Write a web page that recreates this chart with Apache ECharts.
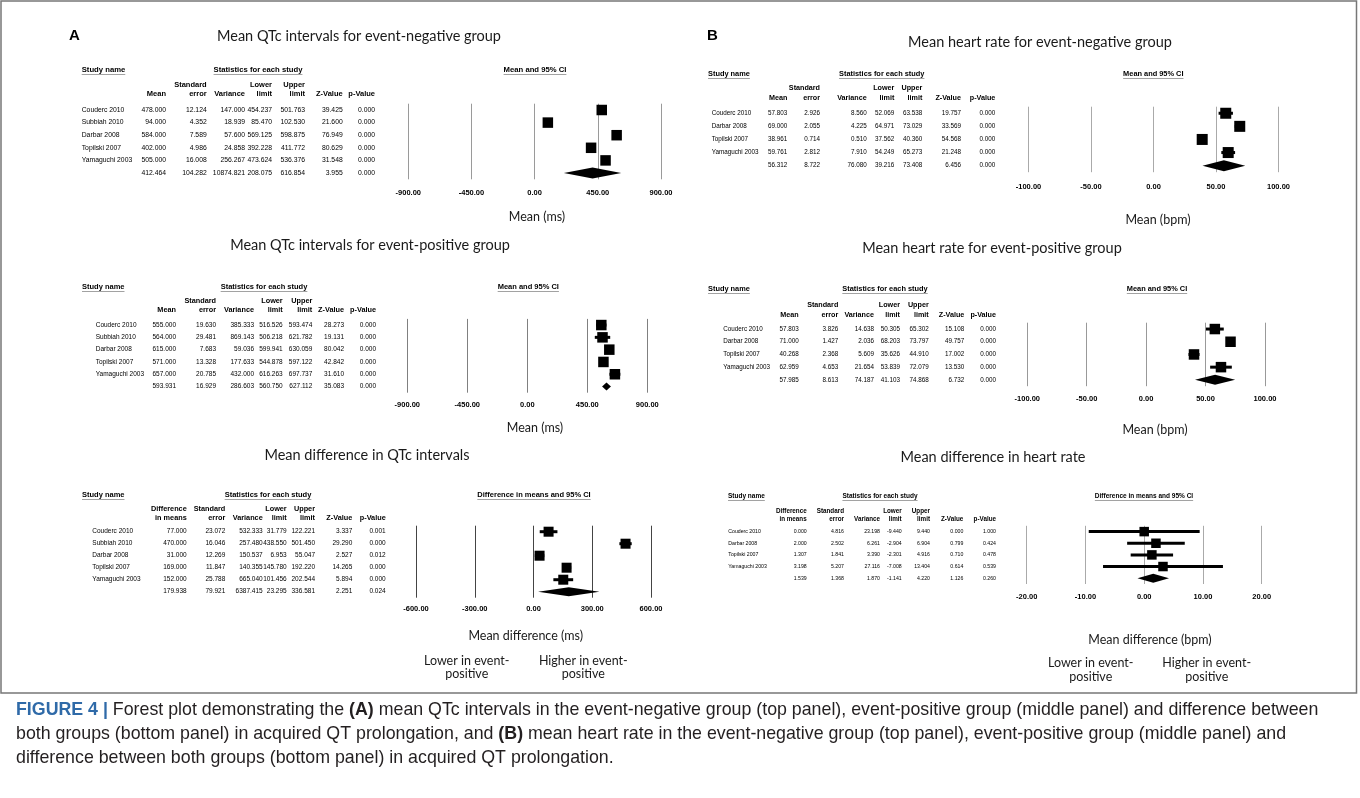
<!DOCTYPE html>
<html>
<head>
<meta charset="utf-8">
<script src="https://cdn.jsdelivr.net/npm/echarts@6/dist/echarts.min.js"></script>
<style>
html, body { margin: 0; padding: 0; background: #fff; }
#chart { width: 1360px; height: 798px; }
</style>
</head>
<body>
<div id="chart"></div>
<script>
// study names
const studiesA = ['Couderc 2010', 'Subbiah 2010', 'Darbar 2008', 'Topilski 2007', 'Yamaguchi 2003'];
const studiesB = ['Couderc 2010', 'Darbar 2008', 'Topilski 2007', 'Yamaguchi 2003'];

// A top: QTc, event-negative (last value = pooled)
const a1Mean  = [478.000, 94.000, 584.000, 402.000, 505.000, 412.464];
const a1SE    = [12.124, 4.352, 7.589, 4.986, 16.008, 104.282];
const a1Var   = [147.000, 18.939, 57.600, 24.858, 256.267, 10874.821];
const a1Lower = [454.237, 85.470, 569.125, 392.228, 473.624, 208.075];
const a1Upper = [501.763, 102.530, 598.875, 411.772, 536.376, 616.854];
const a1Z     = [39.425, 21.600, 76.949, 80.629, 31.548, 3.955];
const a1P     = [0.000, 0.000, 0.000, 0.000, 0.000, 0.000];

// A middle: QTc, event-positive
const a2Mean  = [555.000, 564.000, 615.000, 571.000, 657.000, 593.931];
const a2SE    = [19.630, 29.481, 7.683, 13.328, 20.785, 16.929];
const a2Var   = [385.333, 869.143, 59.036, 177.633, 432.000, 286.603];
const a2Lower = [516.526, 506.218, 599.941, 544.878, 616.263, 560.750];
const a2Upper = [593.474, 621.782, 630.059, 597.122, 697.737, 627.112];
const a2Z     = [28.273, 19.131, 80.042, 42.842, 31.610, 35.083];
const a2P     = [0.000, 0.000, 0.000, 0.000, 0.000, 0.000];

// A bottom: difference in QTc
const a3Diff  = [77.000, 470.000, 31.000, 169.000, 152.000, 179.938];
const a3SE    = [23.072, 16.046, 12.269, 11.847, 25.788, 79.921];
const a3Var   = [532.333, 257.480, 150.537, 140.355, 665.040, 6387.415];
const a3Lower = [31.779, 438.550, 6.953, 145.780, 101.456, 23.295];
const a3Upper = [122.221, 501.450, 55.047, 192.220, 202.544, 336.581];
const a3Z     = [3.337, 29.290, 2.527, 14.265, 5.894, 2.251];
const a3P     = [0.001, 0.000, 0.012, 0.000, 0.000, 0.024];

// B top: heart rate, event-negative
const b1Mean  = [57.803, 69.000, 38.961, 59.761, 56.312];
const b1SE    = [2.926, 2.055, 0.714, 2.812, 8.722];
const b1Var   = [8.560, 4.225, 0.510, 7.910, 76.080];
const b1Lower = [52.069, 64.971, 37.562, 54.249, 39.216];
const b1Upper = [63.538, 73.029, 40.360, 65.273, 73.408];
const b1Z     = [19.757, 33.569, 54.568, 21.248, 6.456];
const b1P     = [0.000, 0.000, 0.000, 0.000, 0.000];

// B middle: heart rate, event-positive
const b2Mean  = [57.803, 71.000, 40.268, 62.959, 57.985];
const b2SE    = [3.826, 1.427, 2.368, 4.653, 8.613];
const b2Var   = [14.638, 2.036, 5.609, 21.654, 74.187];
const b2Lower = [50.305, 68.203, 35.626, 53.839, 41.103];
const b2Upper = [65.302, 73.797, 44.910, 72.079, 74.868];
const b2Z     = [15.108, 49.757, 17.002, 13.530, 6.732];
const b2P     = [0.000, 0.000, 0.000, 0.000, 0.000];

// B bottom: difference in heart rate
const b3Diff  = [0.000, 2.000, 1.307, 3.198, 1.539];
const b3SE    = [4.816, 2.502, 1.841, 5.207, 1.368];
const b3Var   = [23.198, 6.261, 3.390, 27.116, 1.870];
const b3Lower = [-9.440, -2.904, -2.301, -7.008, -1.141];
const b3Upper = [9.440, 6.904, 4.916, 13.404, 4.220];
const b3Z     = [0.000, 0.799, 0.710, 0.614, 1.126];
const b3P     = [1.000, 0.424, 0.478, 0.539, 0.260];

const ARIAL = '"Liberation Sans", Arial, sans-serif';
const CALIBRI = 'Lato, "Open Sans", sans-serif';

const meanHead = ['', 'Mean'];
const diffHead = ['Difference', 'in means'];
const otherHeads = [['Standard', 'error'], ['', 'Variance'], ['Lower', 'limit'], ['Upper', 'limit'], ['', 'Z-Value'], ['', 'p-Value']];

const panels = [
  { title: 'Mean QTc intervals for event-negative group', titleX: 359, titleY: 36,
    studies: studiesA, cols: [a1Mean, a1SE, a1Var, a1Lower, a1Upper, a1Z, a1P], firstHead: meanHead,
    plotHead: 'Mean and 95% CI', axisName: 'Mean (ms)', xMin: -900, xMax: 900, step: 450,
    grid: { left: 408.3, top: 103.7, width: 252.7, height: 75.6 }, margin: 10, nameX: 537, nameY: 217,
    colRight: [166, 206.7, 245, 272, 305, 342.7, 375], studyX: 81.7, rowX: 81.7, headY: [85, 94], topY: 70,
    statsX: 258, ciX: 535, font: 6.8, headFont: 7.5, square: 10.5, diamond: 11, gridColor: '#9a9a9a' },
  { title: 'Mean QTc intervals for event-positive group', titleX: 370, titleY: 245,
    studies: studiesA, cols: [a2Mean, a2SE, a2Var, a2Lower, a2Upper, a2Z, a2P], firstHead: meanHead,
    plotHead: 'Mean and 95% CI', axisName: 'Mean (ms)', xMin: -900, xMax: 900, step: 450,
    grid: { left: 407.3, top: 318.9, width: 240, height: 73.8 }, margin: 8, nameX: 535, nameY: 427.7,
    colRight: [176, 216, 254, 282.7, 312.3, 344, 376], studyX: 82, rowX: 95.7, headY: [301, 310], topY: 287,
    statsX: 264, ciX: 528.3, font: 6.5, headFont: 7.3, square: 10.5, diamond: 8, gridColor: '#808080' },
  { title: 'Mean difference in QTc intervals', titleX: 367, titleY: 455,
    studies: studiesA, cols: [a3Diff, a3SE, a3Var, a3Lower, a3Upper, a3Z, a3P], firstHead: diffHead,
    plotHead: 'Difference in means and 95% CI', axisName: 'Mean difference (ms)', xMin: -600, xMax: 600, step: 300,
    grid: { left: 416, top: 525.7, width: 235, height: 72 }, margin: 7, nameX: 525.7, nameY: 636,
    colRight: [186.7, 225.3, 262.7, 286.7, 315, 352.3, 385.7], studyX: 82, rowX: 92.3, headY: [509.3, 517.7], topY: 495,
    statsX: 268, ciX: 534, font: 6.5, headFont: 7.3, square: 10, diamond: 9, gridColor: '#444',
    dir: { lowX: 466.7, highX: 583.3, y: 660.7 } },
  { title: 'Mean heart rate for event-negative group', titleX: 1040, titleY: 42,
    studies: studiesB, cols: [b1Mean, b1SE, b1Var, b1Lower, b1Upper, b1Z, b1P], firstHead: meanHead,
    plotHead: 'Mean and 95% CI', axisName: 'Mean (bpm)', xMin: -100, xMax: 100, step: 50,
    grid: { left: 1028.5, top: 106.7, width: 250, height: 65.5 }, margin: 11, nameX: 1158, nameY: 220,
    colRight: [787.3, 820, 866.7, 894.3, 922.3, 961, 995.3], studyX: 708, rowX: 711.7, headY: [88.3, 97.7], topY: 74,
    statsX: 881.7, ciX: 1153.3, font: 6.3, headFont: 7.2, square: 11, diamond: 11, gridColor: '#aaa' },
  { title: 'Mean heart rate for event-positive group', titleX: 992, titleY: 248,
    studies: studiesB, cols: [b2Mean, b2SE, b2Var, b2Lower, b2Upper, b2Z, b2P], firstHead: meanHead,
    plotHead: 'Mean and 95% CI', axisName: 'Mean (bpm)', xMin: -100, xMax: 100, step: 50,
    grid: { left: 1027.3, top: 322.7, width: 237.7, height: 63.5 }, margin: 9, nameX: 1155, nameY: 430,
    colRight: [798.7, 838.3, 874, 900, 928.7, 964.3, 996], studyX: 708, rowX: 723.3, headY: [305, 315], topY: 289,
    statsX: 885, ciX: 1157, font: 6.3, headFont: 7.2, square: 10.5, diamond: 10, gridColor: '#999' },
  { title: 'Mean difference in heart rate', titleX: 993, titleY: 457,
    studies: studiesB, cols: [b3Diff, b3SE, b3Var, b3Lower, b3Upper, b3Z, b3P], firstHead: diffHead,
    plotHead: 'Difference in means and 95% CI', axisName: 'Mean difference (bpm)', xMin: -20, xMax: 20, step: 10,
    grid: { left: 1026.7, top: 525.8, width: 235, height: 58.2 }, margin: 9, nameX: 1150, nameY: 640,
    colRight: [806.7, 844, 880, 901.7, 930, 963.3, 996], studyX: 728, rowX: 728.3, headY: [511, 519.3], topY: 496,
    statsX: 880, ciX: 1144, font: 5.2, headFont: 6.3, square: 9.5, diamond: 9, gridColor: '#aaa',
    dir: { lowX: 1090.7, highX: 1206.7, y: 663.3 } }
];

const chart = echarts.init(document.getElementById('chart'));

function drawForest(p) {
  return function (params, api) {
    const row = api.value(3);
    const y = api.coord([0, row])[1];
    const xLo = api.coord([api.value(0), row])[0];
    const xHi = api.coord([api.value(1), row])[0];
    const xEst = api.coord([api.value(2), row])[0];
    if (api.value(4)) {
      const h = p.diamond / 2;
      return { type: 'polygon', shape: { points: [[xLo, y], [xEst, y - h], [xHi, y], [xEst, y + h]] }, style: { fill: '#000' } };
    }
    const s = p.square;
    return { type: 'group', children: [
      { type: 'line', shape: { x1: xLo, y1: y, x2: xHi, y2: y }, style: { stroke: '#000', lineWidth: 3 } },
      { type: 'rect', shape: { x: xEst - s / 2, y: y - s / 2, width: s, height: s }, style: { fill: '#000' } }
    ] };
  };
}

const option = {
  animation: false,
  backgroundColor: '#fff',
  grid: panels.map(p => Object.assign({ containLabel: false }, p.grid)),
  xAxis: panels.map((p, k) => ({
    type: 'value', gridIndex: k, min: p.xMin, max: p.xMax, interval: p.step,
    axisLine: { show: false }, axisTick: { show: false },
    splitLine: { show: true, lineStyle: { color: p.gridColor, width: 1 } },
    axisLabel: { formatter: v => v.toFixed(2), fontFamily: ARIAL, fontWeight: 'bold', fontSize: 7.5,
      color: '#000', margin: p.margin, showMinLabel: true, showMaxLabel: true }
  })),
  yAxis: panels.map((p, k) => ({
    type: 'category', gridIndex: k, inverse: true, show: false,
    data: p.studies.concat(['Overall'])
  })),
  series: panels.map((p, k) => ({
    type: 'custom', xAxisIndex: k, yAxisIndex: k, clip: false, silent: true,
    encode: { x: [0, 1, 2], y: 3 },
    renderItem: drawForest(p),
    data: p.cols[0].map((v, i) => [p.cols[3][i], p.cols[4][i], v, i, i === p.cols[0].length - 1 ? 1 : 0])
  }))
};
chart.setOption(option);

const measureCtx = document.createElement('canvas').getContext('2d');
function textWidth(s, font) { measureCtx.font = font; return measureCtx.measureText(s).width; }

function txt(x, y, s, font, align, color) {
  return { type: 'text', x: x, y: y, silent: true,
    style: { text: s, font: font, fill: color || '#000', align: align || 'left', verticalAlign: 'middle',
      textAlign: align || 'left', textVerticalAlign: 'middle' } };
}

function underlined(x, y, s, font, align) {
  const w = textWidth(s, font);
  const x0 = align === 'center' ? x - w / 2 : x;
  return [txt(x, y, s, font, align),
    { type: 'line', silent: true, shape: { x1: x0, y1: y + 4.5, x2: x0 + w, y2: y + 4.5 }, style: { stroke: '#8a8a8a', lineWidth: 0.8 } }];
}

function buildGraphics() {
  const els = [];
  els.push({ type: 'rect', silent: true, shape: { x: 1, y: 1, width: 1355.5, height: 692 }, style: { fill: 'none', stroke: '#777', lineWidth: 1.5 } });
  els.push(txt(69, 36, 'A', 'bold 15px ' + ARIAL));
  els.push(txt(707, 36, 'B', 'bold 15px ' + ARIAL));

  panels.forEach((p, k) => {
    const valFont = p.font + 'px ' + ARIAL;
    const headFont = 'bold ' + p.headFont + 'px ' + ARIAL;
    const topFont = 'bold ' + (p.headFont + 0.2) + 'px ' + ARIAL;
    els.push(txt(p.titleX, p.titleY, p.title, '14.5px ' + CALIBRI, 'center', '#1a1a1a'));
    els.push(...underlined(p.studyX, p.topY, 'Study name', topFont, 'left'));
    els.push(...underlined(p.statsX, p.topY, 'Statistics for each study', topFont, 'center'));
    els.push(...underlined(p.ciX, p.topY, p.plotHead, topFont, 'center'));

    [p.firstHead].concat(otherHeads).forEach((h, c) => {
      if (h[0]) els.push(txt(p.colRight[c], p.headY[0], h[0], headFont, 'right'));
      els.push(txt(p.colRight[c], p.headY[1], h[1], headFont, 'right'));
    });

    const n = p.cols[0].length;
    for (let i = 0; i < n; i++) {
      const y = chart.convertToPixel({ yAxisIndex: k }, i);
      if (i < p.studies.length) els.push(txt(p.rowX, y, p.studies[i], valFont, 'left'));
      p.cols.forEach((col, c) => {
        els.push(txt(p.colRight[c], y, col[i].toFixed(3), valFont, 'right'));
      });
    }

    els.push(txt(p.nameX, p.nameY, p.axisName, '12.5px ' + CALIBRI, 'center', '#1a1a1a'));
    if (p.dir) {
      els.push(txt(p.dir.lowX, p.dir.y, 'Lower in event-', '12.5px ' + CALIBRI, 'center', '#1a1a1a'));
      els.push(txt(p.dir.lowX, p.dir.y + 13.4, 'positive', '12.5px ' + CALIBRI, 'center', '#1a1a1a'));
      els.push(txt(p.dir.highX, p.dir.y, 'Higher in event-', '12.5px ' + CALIBRI, 'center', '#1a1a1a'));
      els.push(txt(p.dir.highX, p.dir.y + 13.4, 'positive', '12.5px ' + CALIBRI, 'center', '#1a1a1a'));
    }
  });

  const capSize = 17.8;
  const capRich = {
    f: { fontFamily: ARIAL, fontSize: capSize, fontWeight: 'bold', fill: '#2f6aa8', color: '#2f6aa8' },
    k: { fontFamily: ARIAL, fontSize: capSize, fontWeight: 'bold', fill: '#231f20', color: '#231f20' }
  };
  const capLines = [
    '{f|FIGURE 4 |} Forest plot demonstrating the {k|(A)} mean QTc intervals in the event-negative group (top panel), event-positive group (middle panel) and difference between',
    'both groups (bottom panel) in acquired QT prolongation, and {k|(B)} mean heart rate in the event-negative group (top panel), event-positive group (middle panel) and',
    'difference between both groups (bottom panel) in acquired QT prolongation.'
  ];
  capLines.forEach((line, i) => {
    els.push({ type: 'text', x: 16, y: 710 + i * 24, silent: true,
      style: { text: line, rich: capRich, fontFamily: ARIAL, fontSize: capSize, fill: '#231f20',
        align: 'left', verticalAlign: 'middle', textAlign: 'left', textVerticalAlign: 'middle' } });
  });
  return els;
}

chart.setOption({ graphic: { elements: buildGraphics() } });

window.addEventListener('resize', function () {
  chart.resize();
});
</script>
</body>
</html>
